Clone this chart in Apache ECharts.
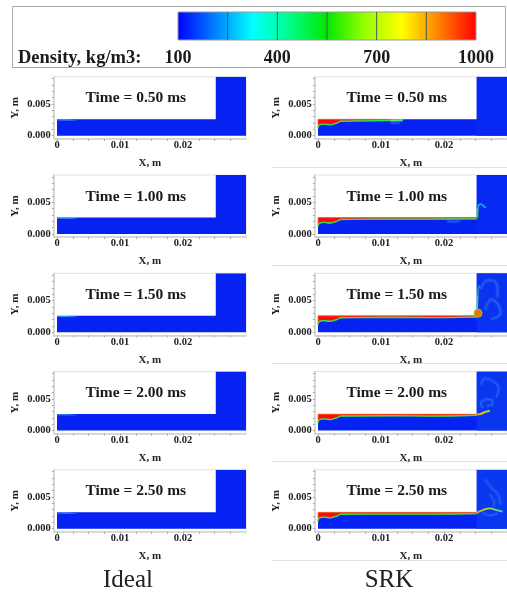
<!DOCTYPE html>
<html><head><meta charset="utf-8"><title>Density</title>
<style>html,body{margin:0;padding:0;background:#fff}#c{width:507px;height:593px}</style>
<script src="https://cdn.jsdelivr.net/npm/echarts@6/dist/echarts.min.js"></script>
</head><body><div id="c"></div>
<script>
// ---- data ----
const times = ['0.50','1.00','1.50','2.00','2.50'];
const densityLabels = [100,400,700,1000];
const densitySegments = [250,400,550,700,850];
const xLabelValues = [0,0.01,0.02];
const yLabelValues = [0,0.005];
const xTickValues = [0,0.0025,0.005,0.0075,0.01,0.0125,0.015,0.0175,0.02,0.0225,0.025,0.0275];
const yTickValues = [0,0.001,0.002,0.003,0.004,0.005,0.006,0.007,0.008,0.009];
const domain = [[0,0],[0.03,0],[0.03,0.0093],[0.0252,0.0093],[0.0252,0.00258],[0,0.00258]];
const nozzleBlock = [[0.0252,0],[0.03,0],[0.03,0.0093],[0.0252,0.0093]];
const idealStreak = [[0,0.00248],[0.0012,0.00248],[0.0032,0.00244]];

const srkInterface050 = [[0,0.0012],[0.0002,0.0017],[0.001,0.00182],[0.002,0.00172],[0.003,0.002],[0.0036,0.00228],[0.008,0.00235],[0.0115,0.0024]];
const srkInterface100 = [[0,0.0012],[0.0002,0.0017],[0.001,0.00182],[0.002,0.00172],[0.003,0.002],[0.0036,0.00228],[0.01,0.00235],[0.018,0.00235],[0.0252,0.00238]];
const srkInterface150 = [[0,0.0012],[0.0002,0.0017],[0.001,0.00182],[0.002,0.00172],[0.003,0.002],[0.0036,0.00228],[0.01,0.00235],[0.018,0.0023],[0.0252,0.00238]];
const srkInterface200 = [[0,0.0012],[0.0002,0.0017],[0.001,0.00182],[0.002,0.00172],[0.003,0.002],[0.0036,0.00228],[0.012,0.00232],[0.018,0.00226],[0.0252,0.0024]];
const srkInterface250 = [[0,0.0012],[0.0002,0.0017],[0.001,0.00182],[0.002,0.00172],[0.003,0.002],[0.0036,0.00228],[0.012,0.0023],[0.018,0.0023],[0.0252,0.0024]];

const jetTip050 = [[0.0115,0.0024],[0.0125,0.00242],[0.0135,0.00245]];
const jetWall100 = [[0.0253,0.0026],[0.0253,0.0033],[0.0254,0.004]];
const jetHook100 = [[0.0254,0.004],[0.0255,0.0046],[0.0259,0.0047],[0.0263,0.0044],[0.0266,0.0041]];
const jetWall150 = [[0.0253,0.0034],[0.0253,0.0045],[0.0254,0.0058]];
const jetWallFaint150 = [[0.0254,0.0058],[0.0254,0.0066],[0.0256,0.0074]];
const jetBlob150 = [[0.0254,0.003]];
const jetSpray200 = [[0.0252,0.0025],[0.0258,0.0026],[0.0265,0.0029],[0.0273,0.0031]];
const jetSpray250 = [[0.0252,0.0025],[0.0258,0.0028],[0.0272,0.0032],[0.0285,0.0029],[0.0293,0.0027]];

const eddy150a = [[0.0258,0.0068],[0.0268,0.0082],[0.0278,0.0082],[0.0285,0.007],[0.0285,0.0055]];
const eddy150b = [[0.0265,0.0035],[0.0275,0.0052],[0.0285,0.0045],[0.029,0.003],[0.0275,0.002]];
const eddy200a = [[0.0262,0.0036],[0.0258,0.0043],[0.0266,0.0049],[0.0277,0.0047],[0.0277,0.0041],[0.0268,0.0039]];
const eddy200b = [[0.0258,0.0072],[0.0265,0.0082],[0.0278,0.0078],[0.0287,0.0066],[0.0283,0.0052]];
const eddy250a = [[0.0265,0.0078],[0.0275,0.0065],[0.0285,0.0055],[0.029,0.0038]];
const eddy250b = [[0.0272,0.0055],[0.028,0.0042],[0.0278,0.0035]];
const eddy250c = [[0.026,0.0026],[0.0272,0.0021],[0.0285,0.0024]];
const bubble050 = [[0.0115,0.00205],[0.0122,0.00195],[0.013,0.00205]];
const bubble100 = [[0.0205,0.00205],[0.0215,0.00192],[0.0225,0.00205]];

const srkInterfaces = [srkInterface050,srkInterface100,srkInterface150,srkInterface200,srkInterface250];
const blockColors = ['#0628f2','#0628f2','#0a32f0','#0a36f0','#0a38f0'];

// ---- styles ----
const SERIF = '"Liberation Serif","Times New Roman",serif';
const BLUE = '#0522f2', FAINT = '#2a68f4', GREEN = '#28e850', CYAN = '#25d6e0';
const X_SCALE = 6300, Y_SCALE = 6333;
const XMIN=-0.0005, XMAX=0.03, YMIN=-0.0005, YMAX=0.0093;
const colZero = [57,318], rowZero0 = 135.7, rowStep = 98.25;

const grids=[], xAxes=[], yAxes=[], series=[];
function polygon(gi, pts, fill, stroke, z){
  series.push({type:'custom',xAxisIndex:gi,yAxisIndex:gi,silent:true,clip:true,z:z||2,data:[[0]],
    renderItem:(p,api)=>({type:'polygon',shape:{points:pts.map(q=>api.coord(q))},
      style:{fill:fill,stroke:stroke||null,lineWidth:stroke?0.7:0}})});
}
function line(gi, pts, color, width, opacity, z, blur){
  series.push({type:'line',xAxisIndex:gi,yAxisIndex:gi,data:pts,smooth:0.3,showSymbol:false,silent:true,z:z||4,
    lineStyle:{color:color,width:width,opacity:opacity==null?1:opacity,
      shadowBlur:blur||0,shadowColor:blur?FAINT:'transparent'}});
}
function faint(gi, pts, width, opacity){ line(gi,pts,FAINT,width,opacity,3,3); }
function label(gi, text){
  series.push({type:'custom',xAxisIndex:gi,yAxisIndex:gi,silent:true,z:6,data:[[0.0125,0.0059]],
    encode:{x:0,y:1},
    renderItem:(p,api)=>{const c=api.coord([api.value(0),api.value(1)]);
      return {type:'text',x:c[0],y:c[1],style:{text:text,font:'bold 15.5px '+SERIF,fill:'#1a1a1a',align:'center',verticalAlign:'middle'}};}});
}
function addPanel(col,row){
  const gi=grids.length, zero=rowZero0+rowStep*row;
  grids.push({left:colZero[col]+XMIN*X_SCALE,top:zero-YMAX*Y_SCALE,
    width:(XMAX-XMIN)*X_SCALE,height:(YMAX-YMIN)*Y_SCALE,
    show:true,borderColor:'#e2e2e2',borderWidth:1,backgroundColor:'#fff'});
  const lab={fontFamily:SERIF,fontWeight:'bold',fontSize:10.5,color:'#222'};
  xAxes.push({type:'value',gridIndex:gi,min:XMIN,max:XMAX,position:'bottom',
    axisLine:{onZero:false,lineStyle:{color:'#cfcfcf',width:1.5}},
    axisTick:{show:true,length:2,customValues:xTickValues,lineStyle:{color:'#aaa',width:1}},
    axisLabel:{...lab,margin:1,customValues:xLabelValues,formatter:v=>v===0?'0':v.toFixed(2)},
    splitLine:{show:false},
    name:'X, m',nameLocation:'middle',nameGap:19,nameTextStyle:{...lab,fontSize:11,color:'#222'}});
  yAxes.push({type:'value',gridIndex:gi,min:YMIN,max:YMAX,position:'left',
    axisLine:{onZero:false,lineStyle:{color:'#cfcfcf',width:1.5}},
    axisTick:{show:true,length:2,customValues:yTickValues,lineStyle:{color:'#aaa',width:1}},
    axisLabel:{...lab,margin:3,customValues:yLabelValues,formatter:v=>v.toFixed(3)},
    splitLine:{show:false},
    name:'Y, m',nameLocation:'middle',nameGap:33,nameTextStyle:{...lab,fontSize:11,color:'#222'}});
  return gi;
}

// Ideal column
times.forEach((t,r)=>{
  const g=addPanel(0,r);
  polygon(g,domain,BLUE);
  line(g,idealStreak,{type:'linear',x:0,y:0,x2:1,y2:0,colorStops:[{offset:0,color:'#2a90f5'},{offset:0.5,color:'#38b8f5'},{offset:1,color:'#0a3af0'}]},1.2,0.9);
  label(g,'Time = '+t+' ms');
});
// SRK column
times.forEach((t,r)=>{
  const g=addPanel(1,r), itf=srkInterfaces[r];
  polygon(g,domain,BLUE);
  polygon(g,nozzleBlock,blockColors[r]);
  const last=itf[itf.length-1];
  polygon(g,[[0,0.00258],...itf,[last[0],0.00258]],'#ff0a0a','#ff7a1a',3);
  line(g,itf,GREEN,1.3,1,4);
  if(r===0){
    line(g,jetTip050,{type:'linear',x:0,y:0,x2:1,y2:0,colorStops:[{offset:0,color:'#a8e030'},{offset:1,color:'#20d8b0'}]},2.2);
    faint(g,bubble050,1.5,0.6);
  }
  if(r===1){
    line(g,jetWall100,'#40e040',1.8);
    line(g,jetHook100,CYAN,1.3,0.8,4,2);
    faint(g,bubble100,1.5,0.7);
  }
  if(r===2){
    line(g,jetWall150,'#3ce060',1.5);
    line(g,jetWallFaint150,CYAN,1.2,0.8);
    faint(g,eddy150a,2.2,0.6);
    faint(g,eddy150b,2.2,0.6);
    series.push({type:'scatter',xAxisIndex:g,yAxisIndex:g,data:jetBlob150,symbolSize:8,silent:true,z:5,
      itemStyle:{color:'#ff6a00',opacity:1,borderColor:'#70d838',borderWidth:1}});
  }
  if(r===3){
    line(g,jetSpray200,{type:'linear',x:0,y:0,x2:1,y2:0,colorStops:[{offset:0,color:'#ff8a10'},{offset:0.6,color:'#e0d020'},{offset:1,color:'#20e070'}]},2);
    faint(g,eddy200a,1.6,0.75);
    faint(g,eddy200b,2,0.55);
  }
  if(r===4){
    line(g,jetSpray250,{type:'linear',x:0,y:0,x2:1,y2:0,colorStops:[{offset:0,color:'#ff9a10'},{offset:0.5,color:'#a0e030'},{offset:1,color:'#20d8d0'}]},1.8);
    faint(g,eddy250a,2.2,0.5);
    faint(g,eddy250b,2,0.5);
    faint(g,eddy250c,1.4,0.7);
  }
  label(g,'Time = '+t+' ms');
});

// Colour bar
const gb=grids.length;
grids.push({left:178,top:12,width:298,height:28,show:false});
xAxes.push({type:'value',gridIndex:gb,min:100,max:1000,position:'bottom',
  axisLine:{show:false},axisTick:{show:false},splitLine:{show:false},
  axisLabel:{customValues:densityLabels,margin:9,formatter:v=>String(v),fontFamily:SERIF,fontWeight:'bold',fontSize:18,color:'#1a1a1a'}});
yAxes.push({type:'value',gridIndex:gb,min:0,max:1,show:false});
series.push({type:'custom',xAxisIndex:gb,yAxisIndex:gb,silent:true,data:[[100,1000]],encode:{x:[0,1]},
  renderItem:(p,api)=>{
    const a=api.coord([api.value(0),0]), b=api.coord([api.value(1),1]);
    return {type:'rect',shape:{x:a[0],y:b[1],width:b[0]-a[0],height:a[1]-b[1]},
      style:{stroke:'#9a9a9a',lineWidth:1,fill:{type:'linear',x:0,y:0,x2:1,y2:0,colorStops:[
        {offset:0,color:'#0000ff'},{offset:0.25,color:'#00ffff'},{offset:0.36,color:'#00ff9a'},
        {offset:0.5,color:'#00e800'},{offset:0.62,color:'#90ff00'},{offset:0.75,color:'#ffff00'},{offset:1,color:'#ff0000'}]}}};
  }});
series.push({type:'custom',xAxisIndex:gb,yAxisIndex:gb,silent:true,z:3,data:densitySegments.map(v=>[v]),encode:{x:0},
  renderItem:(p,api)=>{
    const a=api.coord([api.value(0),0]), b=api.coord([api.value(0),1]);
    return {type:'line',shape:{x1:a[0],y1:a[1],x2:b[0],y2:b[1]},style:{stroke:'#4a5a5a',lineWidth:1}};
  }});

const separators=[167,265,363,461,560].map(y=>({type:'line',shape:{x1:272,y1:y+0.5,x2:507,y2:y+0.5},style:{stroke:'#e0e0e0',lineWidth:1}}));

const chart=echarts.init(document.getElementById('c'),null,{width:507,height:593});
chart.setOption({animation:false,backgroundColor:'#fff',grid:grids,xAxis:xAxes,yAxis:yAxes,series:series,
  graphic:[
    {type:'rect',shape:{x:12.5,y:6.5,width:493,height:61},style:{fill:'none',stroke:'#a8a8a8',lineWidth:1}},
    {type:'text',left:18,top:49,style:{text:'Density, kg/m3:',font:'bold 18.5px '+SERIF,fill:'#1a1a1a'}},
    {type:'text',x:128,y:580,style:{text:'Ideal',font:'25px '+SERIF,fill:'#222',align:'center',verticalAlign:'middle'}},
    {type:'text',x:389,y:580,style:{text:'SRK',font:'25px '+SERIF,fill:'#222',align:'center',verticalAlign:'middle'}},
    ...separators
  ]});
</script></body></html>
